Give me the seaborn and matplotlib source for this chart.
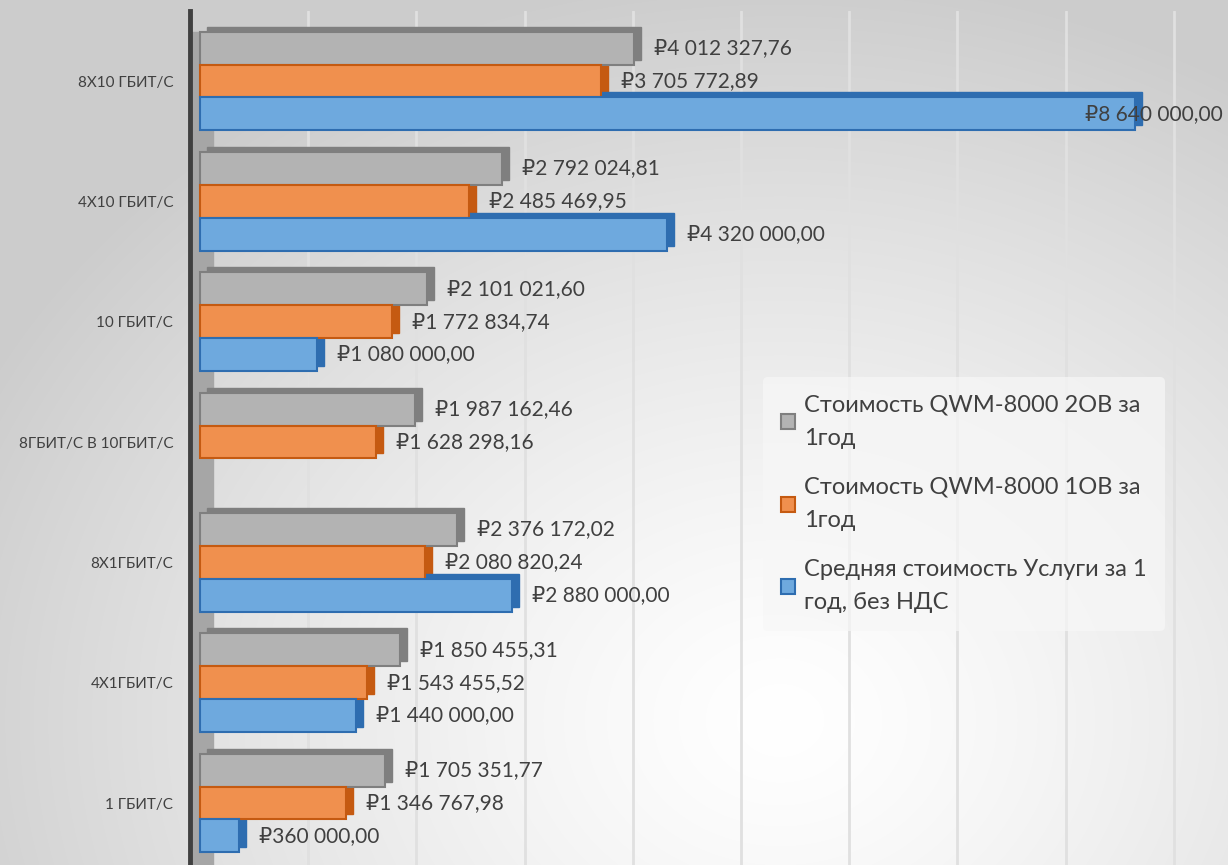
import numpy as np
import pandas as pd
import matplotlib.pyplot as plt
import matplotlib.transforms as mtransforms
from matplotlib.patches import Rectangle, Patch
import seaborn as sns

categories = ['8Х10 ГБИТ/С', '4Х10 ГБИТ/С', '10 ГБИТ/С', '8ГБИТ/С В 10ГБИТ/С',
              '8Х1ГБИТ/С', '4Х1ГБИТ/С', '1 ГБИТ/С']
cost_2ov = [4012327.76, 2792024.81, 2101021.60, 1987162.46, 2376172.02, 1850455.31, 1705351.77]
cost_1ov = [3705772.89, 2485469.95, 1772834.74, 1628298.16, 2080820.24, 1543455.52, 1346767.98]
avg_service = [8640000.00, 4320000.00, 1080000.00, np.nan, 2880000.00, 1440000.00, 360000.00]
series = ['Стоимость QWM-8000 2ОВ за 1год',
          'Стоимость QWM-8000 1ОВ за 1год',
          'Средняя стоимость Услуги за 1 год, без НДС']
legend_labels = ['Стоимость QWM-8000 2ОВ за\n1год',
                 'Стоимость QWM-8000 1ОВ за\n1год',
                 'Средняя стоимость Услуги за 1\nгод, без НДС']

face_colors = ['#B3B3B3', '#F0904E', '#6EA9DE']
edge_colors = ['#7F7F7F', '#C55A11', '#2E6DB0']

df = pd.DataFrame({
    'category': categories * 3,
    'series': [s for s in series for _ in categories],
    'value': cost_2ov + cost_1ov + avg_service,
})

sns.set_style('white')
plt.rcParams['font.family'] = ['Lato', 'DejaVu Sans']

W, H = 1228, 865
fig = plt.figure(figsize=(W / 100, H / 100), dpi=100)

# background gradient
bg = fig.add_axes([0, 0, 1, 1], zorder=-5)
yy, xx = np.mgrid[0:H, 0:W]
r = np.sqrt(((xx - 780) / 900.0) ** 2 + ((yy - 720) / 750.0) ** 2)
shade = 1.0 - 0.2 * np.clip(r, 0, 1) ** 1.3
bg.imshow(np.dstack([shade] * 3), aspect='auto', extent=[0, 1, 0, 1])
bg.axis('off')

ax = fig.add_axes([190 / W, 0, 1 - 190 / W, 1 - 11 / H])
ax.set_facecolor('none')

sns.barplot(data=df, y='category', x='value', hue='series', hue_order=series,
            palette=face_colors, orient='h', width=0.82, saturation=1,
            legend=False, ax=ax, zorder=2)

ax.set_xlim(-0.0924e6, 9.50e6)
ax.set_ylim(6.515, -0.582)
ax.set_xticks(np.arange(1, 10) * 1e6)
ax.set_xticklabels([])
ax.grid(axis='x', color='#E0E0E0', linewidth=2)
ax.grid(axis='y', visible=False)
ax.set_axisbelow(True)
ax.set_xlabel('')
ax.set_ylabel('')
for s in ['top', 'right', 'bottom']:
    ax.spines[s].set_visible(False)
ax.spines['left'].set_color('#404040')
ax.spines['left'].set_linewidth(3.5)
ax.tick_params(axis='y', length=0, pad=12, labelsize=11, labelcolor='#404040')
ax.tick_params(axis='x', length=0)

# left wall
ax.axvspan(-0.0924e6, 0.12e6, color='#A6A6A6', zorder=0.3, ymax=0.975)

# depth faces and value labels
depth = mtransforms.offset_copy(ax.transData, fig=fig, x=7, y=5, units='dots')
for cont, ec in zip(ax.containers, edge_colors):
    for bar in cont:
        w = bar.get_width()
        if not np.isfinite(w) or w == 0:
            continue
        bar.set_edgecolor(ec)
        bar.set_linewidth(1.5)
        ax.add_patch(Rectangle((bar.get_x(), bar.get_y()), w, bar.get_height(),
                               transform=depth, facecolor=ec, edgecolor=ec,
                               zorder=1.5))
        txt = '₽' + f'{w:,.2f}'.replace(',', ' ').replace('.', ',')
        dx = 20 if w < 7e6 else -50
        ax.annotate(txt, (w, bar.get_y() + bar.get_height() / 2),
                    xytext=(dx, 0), textcoords='offset pixels',
                    ha='left', va='center', fontsize=15, color='#404040',
                    zorder=5)

handles = [Patch(facecolor=fc, edgecolor=ec, linewidth=1.5)
           for fc, ec in zip(face_colors, edge_colors)]
leg = fig.legend(handles, legend_labels, loc='upper left',
                 bbox_to_anchor=(763 / W, 1 - 377 / H), borderaxespad=0,
                 fontsize=17, frameon=True, handlelength=0.6, handleheight=0.6,
                 handletextpad=0.4, labelspacing=1.2, borderpad=0.75,
                 labelcolor='#404040')
for t in leg.get_texts():
    t.set_linespacing(1.7)
leg.get_frame().set_facecolor('#F7F7F7')
leg.get_frame().set_alpha(0.7)
leg.get_frame().set_edgecolor('none')

fig.savefig('out.png', dpi=100)
